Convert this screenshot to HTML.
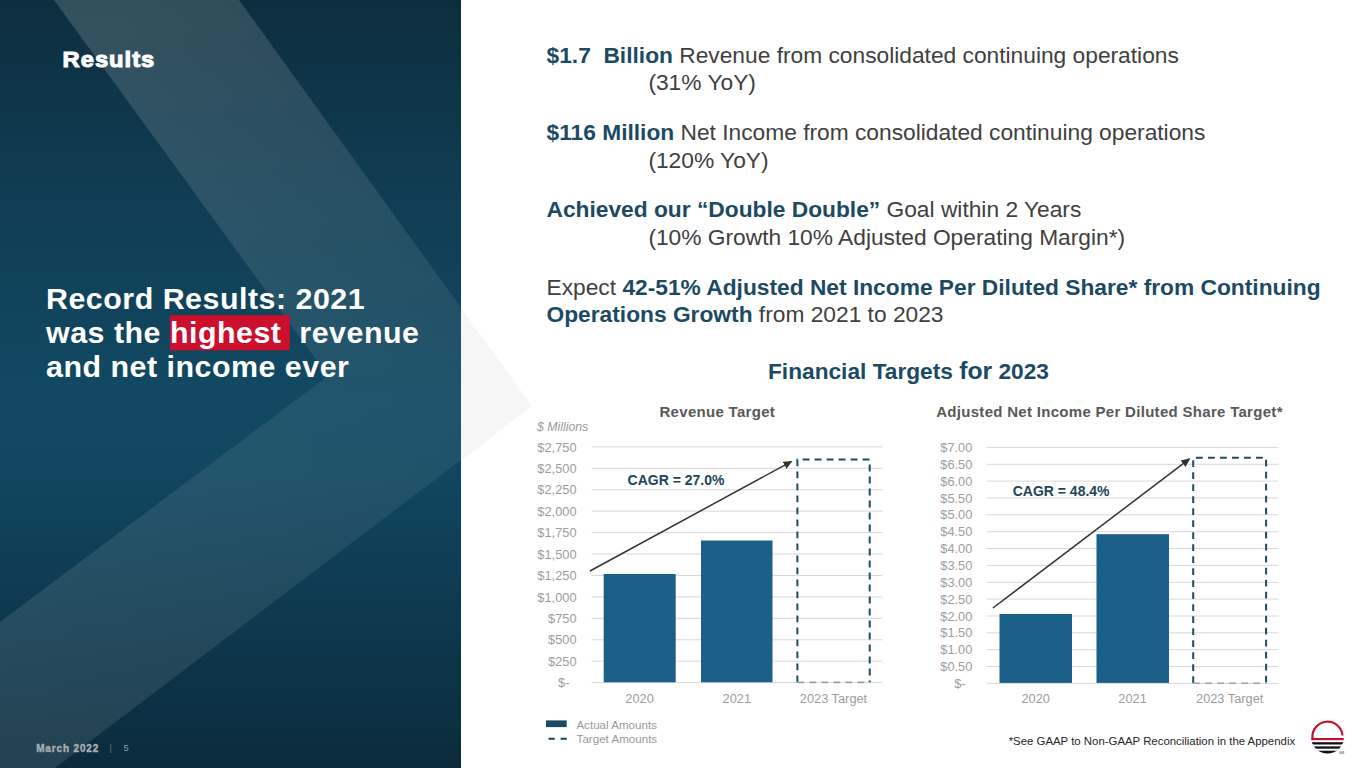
<!DOCTYPE html>
<html><head><meta charset="utf-8">
<style>
html,body{margin:0;padding:0;width:1365px;height:768px;overflow:hidden;background:#fff}
svg{display:block}
text{font-family:"Liberation Sans",sans-serif;white-space:pre}
.b{font-weight:bold}
.nv{fill:#1c4a63}
.gy{fill:#404040}
.ax{fill:#9d9d9d;font-size:12.8px}
.gl{stroke:#d9d9d9;stroke-width:1}
.bar{fill:#1a6088}
.dash{fill:none;stroke:#1f4b61;stroke-width:2;stroke-dasharray:6.8 5.2}
.dashb{fill:none;stroke:#93a3ae;stroke-width:1.6;stroke-dasharray:6.8 5.2}
</style></head>
<body>
<svg width="1365" height="768" viewBox="0 0 1365 768">
<defs>
<linearGradient id="bg" x1="0" y1="0" x2="0" y2="1">
<stop offset="0" stop-color="#0d2e3f"/>
<stop offset="0.27" stop-color="#103e54"/>
<stop offset="0.52" stop-color="#114963"/>
<stop offset="0.62" stop-color="#104660"/>
<stop offset="1" stop-color="#0b2b3c"/>
</linearGradient>
<linearGradient id="bandu" gradientUnits="userSpaceOnUse" x1="146" y1="0" x2="430" y2="391">
<stop offset="0" stop-color="#e6ebe6" stop-opacity="0.175"/>
<stop offset="0.5" stop-color="#e6ebe6" stop-opacity="0.12"/>
<stop offset="1" stop-color="#e6ebe6" stop-opacity="0.07"/>
</linearGradient>
<linearGradient id="bandl" gradientUnits="userSpaceOnUse" x1="430" y1="391" x2="20" y2="700">
<stop offset="0" stop-color="#e6ebe6" stop-opacity="0.07"/>
<stop offset="1" stop-color="#e6ebe6" stop-opacity="0.115"/>
</linearGradient>
<marker id="ah" markerWidth="10" markerHeight="10" refX="8" refY="5" orient="auto" markerUnits="userSpaceOnUse">
<path d="M0,1 L9,5 L0,9 z" fill="#333"/>
</marker>
</defs>
<!-- left panel -->
<rect x="0" y="0" width="461" height="768" fill="url(#bg)"/>
<polygon points="54,0 239,0 532,406 328,376" fill="url(#bandu)"/>
<polygon points="328,376 532,406 55,768 0,768 0,622" fill="url(#bandl)"/>
<!-- chevron tip on white -->
<polygon points="461,308 532,406 461,461" fill="#f6f6f6"/>
<rect x="461" y="0" width="1" height="768" fill="#fff" opacity="0"/>

<!-- left texts -->
<text transform="translate(62.6,66.8) scale(1.1,1)" x="0" y="0" class="b" font-size="21.6" fill="#fff" stroke="#fff" stroke-width="1" letter-spacing="0.9">Results</text>
<rect x="170" y="315.2" width="119.8" height="35.1" fill="#cb0f2d"/>
<g font-size="30.4" class="b" fill="#fff" letter-spacing="0.5">
<text x="46" y="308.9">Record Results: 2021</text>
<text x="46" y="343">was the <tspan>highest</tspan>  revenue</text>
<text x="46" y="376.7">and net income ever</text>
</g>
<text x="36.2" y="751.8" class="b" font-size="10" fill="#a9b0b6" stroke="#a9b0b6" stroke-width="0.35" letter-spacing="0.85">March 2022</text>
<text x="109.5" y="751" font-size="9" fill="#5d7384">|</text>
<text x="123.4" y="751" font-size="9.4" fill="#8ba2b3">5</text>

<!-- right texts -->
<g font-size="22.76">
<text x="546.5" y="62.5"><tspan class="b nv">$1.7  Billion</tspan><tspan class="gy" xml:space="preserve"> Revenue from consolidated continuing operations</tspan></text>
<text x="648.4" y="89.8" class="gy">(31% YoY)</text>
<text x="546.5" y="140.2"><tspan class="b nv">$116 Million</tspan><tspan class="gy"> Net Income from consolidated continuing operations</tspan></text>
<text x="648.4" y="167.7" class="gy">(120% YoY)</text>
<text x="546.5" y="216.7"><tspan class="b nv">Achieved our “Double Double”</tspan><tspan class="gy"> Goal within 2 Years</tspan></text>
<text x="648.4" y="244.6" class="gy">(10% Growth 10% Adjusted Operating Margin*)</text>
<text x="546.5" y="294.5"><tspan class="gy">Expect </tspan><tspan class="b nv">42-51% Adjusted Net Income Per Diluted Share* from Continuing</tspan></text>
<text x="546.5" y="321.7"><tspan class="b nv">Operations Growth</tspan><tspan class="gy"> from 2021 to 2023</tspan></text>
</g>
<text x="768" y="379.2" class="b nv" font-size="22.7">Financial Targets <tspan font-size="24.7">for</tspan> 2023</text>

<!-- left chart -->
<text x="717.3" y="417" text-anchor="middle" class="b" font-size="15" letter-spacing="0.3" fill="#595959">Revenue Target</text>
<text x="537" y="430.5" font-style="italic" font-size="12.3" fill="#999">$ Millions</text>
<g class="gl" id="gl1">
<line x1="591.5" x2="882.4" y1="446.9" y2="446.9"/>
<line x1="591.5" x2="882.4" y1="468.3" y2="468.3"/>
<line x1="591.5" x2="882.4" y1="489.8" y2="489.8"/>
<line x1="591.5" x2="882.4" y1="511.2" y2="511.2"/>
<line x1="591.5" x2="882.4" y1="532.6" y2="532.6"/>
<line x1="591.5" x2="882.4" y1="554.0" y2="554.0"/>
<line x1="591.5" x2="882.4" y1="575.5" y2="575.5"/>
<line x1="591.5" x2="882.4" y1="596.9" y2="596.9"/>
<line x1="591.5" x2="882.4" y1="618.3" y2="618.3"/>
<line x1="591.5" x2="882.4" y1="639.8" y2="639.8"/>
<line x1="591.5" x2="882.4" y1="661.2" y2="661.2"/>
<line x1="591.5" x2="882.4" y1="682.6" y2="682.6"/>
</g>
<g class="ax" text-anchor="end">
<text x="576.5" y="451.5">$2,750</text>
<text x="576.5" y="472.9">$2,500</text>
<text x="576.5" y="494.4">$2,250</text>
<text x="576.5" y="515.8">$2,000</text>
<text x="576.5" y="537.2">$1,750</text>
<text x="576.5" y="558.6">$1,500</text>
<text x="576.5" y="580.1">$1,250</text>
<text x="576.5" y="601.5">$1,000</text>
<text x="576.5" y="622.9">$750</text>
<text x="576.5" y="644.4">$500</text>
<text x="576.5" y="665.8">$250</text>
<text x="569.5" y="687.2">$-</text>
</g>
<rect class="bar" x="603.7" y="574" width="72" height="108.3"/>
<rect class="bar" x="701" y="540.5" width="71.5" height="141.8"/>
<path class="dash" d="M797.4,682.3 V459.6 H869.7 V682.3"/>
<path class="dashb" d="M797.4,682.4 H869.7"/>
<line x1="590" y1="571" x2="791.6" y2="461.4" stroke="#333" stroke-width="1.5" marker-end="url(#ah)"/>
<text x="627.6" y="484.6" class="b" fill="#1e4459" font-size="14">CAGR = 27.0%</text>
<g class="ax" text-anchor="middle">
<text x="639.6" y="702.7">2020</text>
<text x="736.8" y="702.7">2021</text>
<text x="833.5" y="702.7">2023 Target</text>
</g>
<rect x="546" y="720.4" width="20.7" height="6.7" fill="#1b4a66"/>
<line x1="548.6" x2="566.8" y1="738.7" y2="738.7" stroke="#1d4058" stroke-width="2" stroke-dasharray="6.2 5.8"/>
<text x="576.4" y="729" font-size="11.6" fill="#999">Actual Amounts</text>
<text x="576.6" y="742.6" font-size="11.6" fill="#999">Target Amounts</text>

<!-- right chart -->
<text x="1109.5" y="417" text-anchor="middle" class="b" font-size="15" letter-spacing="0.3" fill="#595959">Adjusted Net Income Per Diluted Share Target*</text>
<g class="gl" id="gl2">
<line x1="986.8" x2="1278.4" y1="447.4" y2="447.4"/>
<line x1="986.8" x2="1278.4" y1="464.3" y2="464.3"/>
<line x1="986.8" x2="1278.4" y1="481.1" y2="481.1"/>
<line x1="986.8" x2="1278.4" y1="498.0" y2="498.0"/>
<line x1="986.8" x2="1278.4" y1="514.8" y2="514.8"/>
<line x1="986.8" x2="1278.4" y1="531.7" y2="531.7"/>
<line x1="986.8" x2="1278.4" y1="548.5" y2="548.5"/>
<line x1="986.8" x2="1278.4" y1="565.4" y2="565.4"/>
<line x1="986.8" x2="1278.4" y1="582.3" y2="582.3"/>
<line x1="986.8" x2="1278.4" y1="599.1" y2="599.1"/>
<line x1="986.8" x2="1278.4" y1="616.0" y2="616.0"/>
<line x1="986.8" x2="1278.4" y1="632.8" y2="632.8"/>
<line x1="986.8" x2="1278.4" y1="649.7" y2="649.7"/>
<line x1="986.8" x2="1278.4" y1="666.5" y2="666.5"/>
<line x1="986.8" x2="1278.4" y1="683.4" y2="683.4"/>
</g>
<g class="ax" text-anchor="end">
<text x="972.3" y="452.0">$7.00</text>
<text x="972.3" y="468.9">$6.50</text>
<text x="972.3" y="485.7">$6.00</text>
<text x="972.3" y="502.6">$5.50</text>
<text x="972.3" y="519.4">$5.00</text>
<text x="972.3" y="536.3">$4.50</text>
<text x="972.3" y="553.1">$4.00</text>
<text x="972.3" y="570.0">$3.50</text>
<text x="972.3" y="586.9">$3.00</text>
<text x="972.3" y="603.7">$2.50</text>
<text x="972.3" y="620.6">$2.00</text>
<text x="972.3" y="637.4">$1.50</text>
<text x="972.3" y="654.3">$1.00</text>
<text x="972.3" y="671.1">$0.50</text>
<text x="965.6" y="688.0">$-</text>
</g>
<rect class="bar" x="999.5" y="614" width="72.5" height="68.9"/>
<rect class="bar" x="1096.5" y="534.2" width="72.5" height="148.7"/>
<path class="dash" d="M1193.2,683 V457.8 H1266.1 V683"/>
<path class="dashb" d="M1193.2,683.2 H1266.1"/>
<line x1="992.9" y1="608" x2="1189.5" y2="458.9" stroke="#333" stroke-width="1.5" marker-end="url(#ah)"/>
<text x="1012.7" y="495.5" class="b" fill="#1e4459" font-size="14">CAGR = 48.4%</text>
<g class="ax" text-anchor="middle">
<text x="1035.7" y="702.7">2020</text>
<text x="1132.6" y="702.7">2021</text>
<text x="1229.7" y="702.7">2023 Target</text>
</g>
<text x="1008.7" y="744.5" font-size="11.4" fill="#262626">*See GAAP to Non-GAAP Reconciliation in the Appendix</text>

<!-- logo -->
<defs><clipPath id="lc"><circle cx="1327.5" cy="737" r="16.5"/></clipPath></defs>
<path d="M1312.5,738 A15,15 0 0 1 1342.5,735.5" fill="none" stroke="#c8102e" stroke-width="2.2"/>
<g clip-path="url(#lc)">
<rect x="1310" y="738" width="35" height="2.2" fill="#c8102e"/>
<rect x="1310" y="742.2" width="35" height="2.3" fill="#111"/>
<rect x="1310" y="746.4" width="35" height="2.3" fill="#111"/>
<rect x="1310" y="750.7" width="35" height="4" fill="#111"/>
</g>
<text x="1339" y="753.5" font-size="3.5" fill="#444">SM</text>
</svg>
</body></html>
